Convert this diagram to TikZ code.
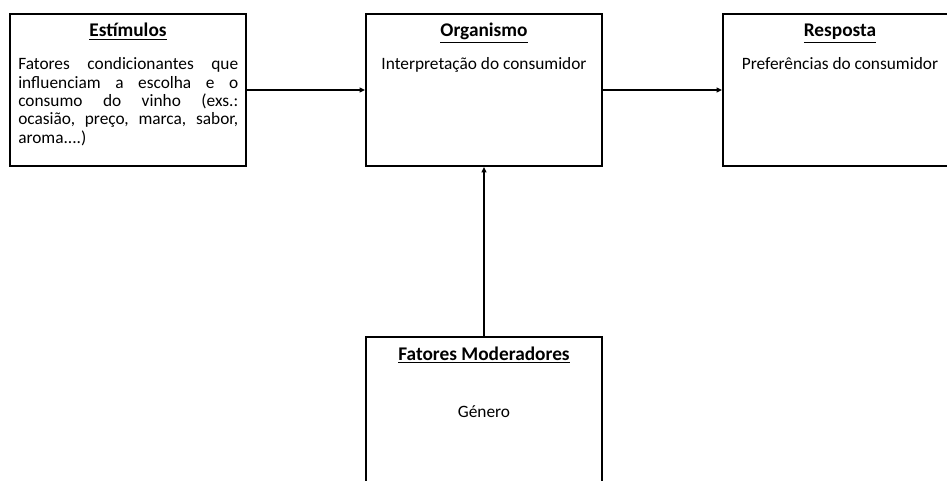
\documentclass[tikz,border=0pt]{standalone}
\usepackage{fontspec}
\setmainfont{Carlito}
\usetikzlibrary{arrows.meta}
\tikzset{
  blk/.style={draw, line width=1.5pt, rectangle, inner sep=0pt, minimum width=177pt, minimum height=114pt},
  ttl/.style={font=\fontsize{14.5pt}{16pt}\selectfont\bfseries, inner sep=0pt, anchor=base},
  txt/.style={font=\fontsize{13pt}{13.9pt}\selectfont, inner sep=0pt, anchor=base},
  jline/.style={txt, anchor=base west},
  conn/.style={line width=1.1pt, -{Triangle[length=4pt,width=3.6pt]}}
}
\newcommand{\jl}[1]{\makebox[165pt][s]{#1}}
\begin{document}
\begin{tikzpicture}[x=0.75pt,y=-0.75pt]
\useasboundingbox (0,0) rectangle (947,481);
\clip (0,0) rectangle (947,481);
\node[blk] (est) at (128,90) {};
\node[blk] (org) at (484,90) {};
\node[blk, minimum width=175.5pt] (resp) at (840,90) {};
\node[blk, minimum height=125pt] (fat) at (484,420.3) {};
\node[ttl] (estt) at (128,37) {\underline{Estímulos}};
\node[jline] (estb1) at (18,70) {\jl{Fatores condicionantes que}};
\node[jline] (estb2) at (18,88.3) {\jl{influenciam a escolha e o}};
\node[jline] (estb3) at (18,106.6) {\jl{consumo do vinho (exs.:}};
\node[jline] (estb4) at (18,125) {\jl{ocasião, preço, marca, sabor,}};
\node[jline] (estb5) at (18,143.3) {aroma....)};
\node[ttl] (orgt) at (484,37) {\underline{Organismo}};
\node[txt] (orgb) at (484,70) {Interpretação do consumidor};
\node[ttl] (respt) at (840,37) {\underline{Resposta}};
\node[txt] (respb) at (840,70) {Preferências do consumidor};
\node[ttl] (fatt) at (484,360) {\underline{Fatores Moderadores}};
\node[txt] (fatb) at (484,417) {Género};
\draw[conn] (est.east) -- (org.west);
\draw[conn] (org.east) -- (resp.west);
\draw[conn] (fat.north) -- (org.south);
\end{tikzpicture}
\end{document}
